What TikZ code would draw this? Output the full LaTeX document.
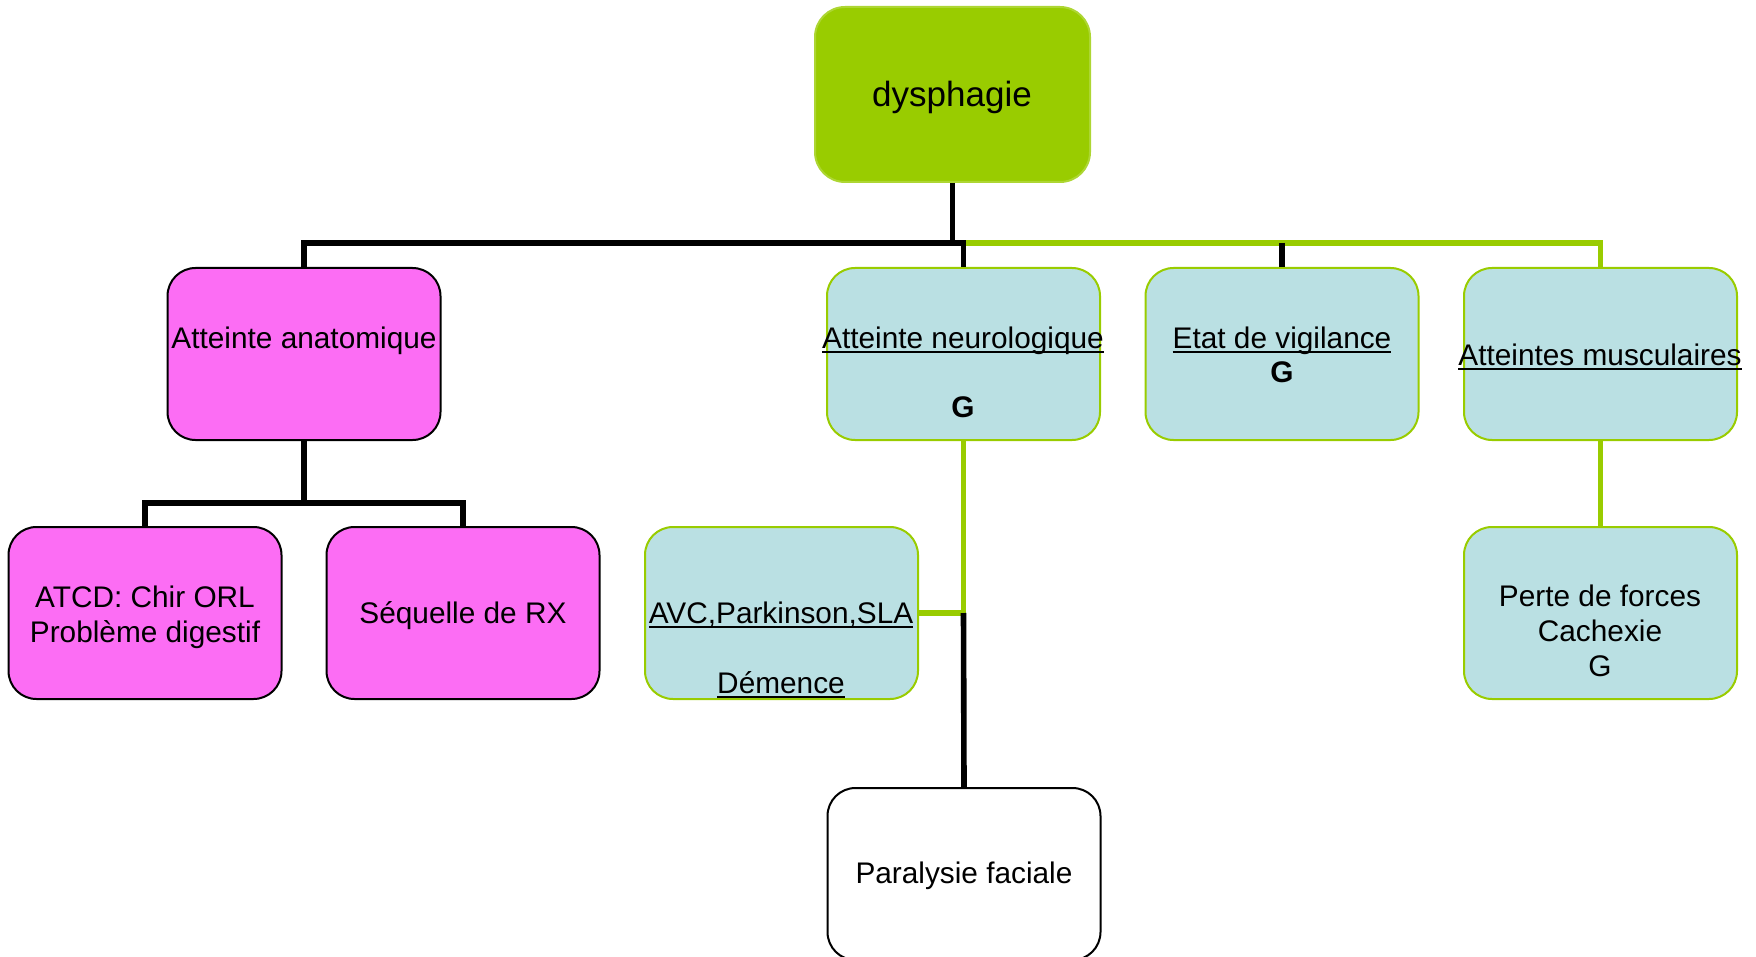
\documentclass[tikz,border=0pt]{standalone}
\usepackage{fontspec}
\setmainfont{Liberation Sans}
\definecolor{lime}{HTML}{99CC00}
\definecolor{pinkfill}{HTML}{FC6DF4}
\definecolor{bluefill}{HTML}{BAE0E3}
\newcommand{\ulx}[1]{\setbox0\hbox{#1}\rlap{\rule[-2.6pt]{\wd0}{0.9pt}}\box0}
\newcommand{\fsz}{\fontsize{14.9pt}{17pt}\selectfont}
\tikzset{
  box/.style={rounded corners=14pt, minimum width=136.5pt, minimum height=86pt, inner sep=0pt, line width=1pt},
  pinkbox/.style={box, fill=pinkfill, draw=black},
  bluebox/.style={box, fill=bluefill, draw=lime},
  whitebox/.style={box, fill=white, draw=black},
  topbox/.style={box, fill=lime, draw=lime!80!white, minimum width=137.5pt, minimum height=87.5pt, rounded corners=15pt},
  txt/.style={anchor=base, inner sep=0pt, font=\fsz},
  blk/.style={draw=black, line width=2.8pt, line join=miter},
  grn/.style={draw=lime, line width=2.8pt, line join=miter},
}
\begin{document}
\begin{tikzpicture}[x=0.5pt, y=-0.5pt]
\useasboundingbox (0,0) rectangle (1756,957);
% boxes
\node[topbox] (top) at (952.5,94.5) {};
\node[pinkbox] (anat) at (304,354) {};
\node[bluebox] (neuro) at (963.5,354) {};
\node[bluebox] (vig) at (1282,354) {};
\node[bluebox] (musc) at (1600.5,354) {};
\node[pinkbox] (atcd) at (145,613) {};
\node[pinkbox] (seq) at (463,613) {};
\node[bluebox] (avc) at (781.5,613) {};
\node[bluebox] (perte) at (1600.5,613) {};
\node[whitebox] (para) at (964,874) {};
% junction coordinates
\coordinate (bus) at (0,243);
\coordinate (abus) at (0,503);
\coordinate (nj) at (neuro.south |- avc.east);
% connectors
\draw[grn] (neuro.north |- bus) -- (musc.north |- bus) -- (musc.north);
\draw[blk] (top.south) -- (top.south |- bus);
\draw[blk] (anat.north) |- (neuro.north |- bus) -- (neuro.north);
\draw[blk] (vig.north |- bus) -- (vig.north);
\draw[blk] (anat.south) -- (anat.south |- abus);
\draw[blk] (atcd.north) |- (seq.north |- abus) -- (seq.north);
\draw[grn] (neuro.south) -- (nj) -- (avc.east);
\draw[blk] (nj) -- (para.north);
\draw[grn] (musc.south) -- (perte.north);
% texts
\node[txt, font=\fontsize{17.5pt}{20pt}\selectfont] (t0) at (952,107) {dysphagie};
\node[txt] (t1) at (304,348) {Atteinte anatomique};
\node[txt] (t2) at (963,348) {\ulx{Atteinte neurologique}};
\node[txt] (t2g) at (963,417) {\textbf{G}};
\node[txt] (t3) at (1282,348) {\ulx{Etat de vigilance}};
\node[txt] (t3g) at (1282,382) {\textbf{G}};
\node[txt] (t4) at (1600,365) {\ulx{Atteintes musculaires}};
\node[txt] (t5a) at (145,607) {ATCD: Chir ORL};
\node[txt] (t5b) at (145,642) {Problème digestif};
\node[txt] (t6) at (463,623) {Séquelle de RX};
\node[txt] (t7a) at (781,623) {\ulx{AVC,Parkinson,SLA}};
\node[txt] (t7b) at (781,693) {\ulx{Démence}};
\node[txt] (t8a) at (1600,606) {Perte de forces};
\node[txt] (t8b) at (1600,641) {Cachexie};
\node[txt] (t8c) at (1600,676) {G};
\node[txt] (t9) at (964,883) {Paralysie faciale};
\end{tikzpicture}
\end{document}
